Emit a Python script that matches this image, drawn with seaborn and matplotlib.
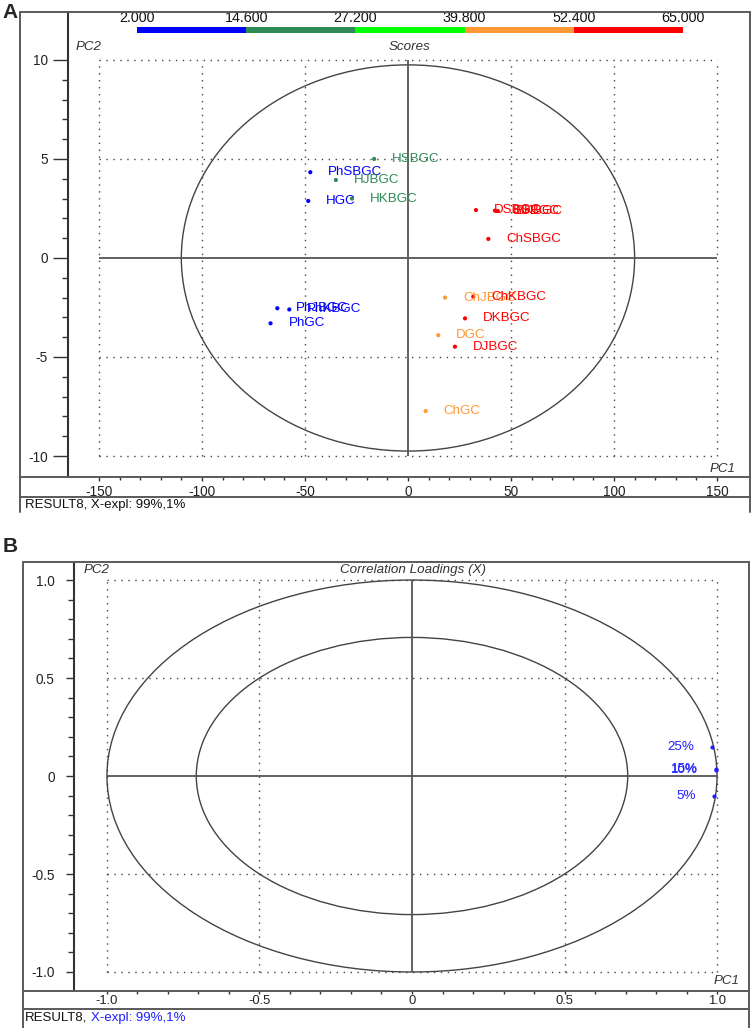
import numpy as np
import pandas as pd
import seaborn as sns
import matplotlib.pyplot as plt
from matplotlib.patches import Ellipse
from matplotlib.lines import Line2D
from matplotlib.ticker import FixedLocator

sns.set_style("white")
plt.rcParams['font.family'] = ['Liberation Sans', 'DejaVu Sans']
plt.rcParams['axes.unicode_minus'] = False

# --- colour scale (top of panel A)
bin_edges = [2.0, 14.6, 27.2, 39.8, 52.4, 65.0]
bin_colors = ['#0000ff', '#2e8b57', '#00ff00', '#ff9933', '#ff0000']

# --- panel A: scores
samples = ['PhSBGC', 'HSBGC', 'HJBGC', 'HGC', 'HKBGC', 'PhJBGC', 'PhKBGC', 'PhGC',
           'DSBGC', 'BSBGC', 'BKBGC', 'ChSBGC', 'ChJBGC', 'ChKBGC', 'DKBGC', 'DGC',
           'DJBGC', 'ChGC']
pc1_scores = [-47.4, -16.4, -35.0, -48.4, -27.2, -63.4, -57.6, -66.7,
              33.0, 42.2, 43.6, 39.0, 18.0, 31.7, 27.7, 14.7, 22.8, 8.6]
pc2_scores = [4.33, 5.0, 3.94, 2.88, 3.0, -2.54, -2.6, -3.3,
              2.42, 2.39, 2.37, 0.96, -2.0, -1.95, -3.05, -3.9, -4.48, -7.73]
sample_bin = [0, 1, 1, 0, 1, 0, 0, 0, 4, 4, 4, 4, 3, 4, 4, 3, 4, 3]

score_ellipse = (110.0, 9.75)   # half-widths in PC1 / PC2 units
a_xticks = [-150, -100, -50, 0, 50, 100, 150]
a_yticks = [-10, -5, 0, 5, 10]

# --- panel B: correlation loadings
variables = ['25%', '15%', '10%', '5%']
pc1_load = [0.985, 0.995, 0.996, 0.990]
pc2_load = [0.150, 0.036, 0.033, -0.100]
b_ticks = [-1.0, -0.5, 0, 0.5, 1.0]
b_ticklabels = ['-1.0', '-0.5', '0', '0.5', '1.0']
load_radii = [1.0, np.sqrt(0.5)]

W, H = 754, 1028
fig = plt.figure(figsize=(W / 100, H / 100), dpi=100)

def fline(x0, y0, x1, y1, lw=1.4, c='#5a5a5a'):
    fig.add_artist(Line2D([x0 / W, x1 / W], [1 - y0 / H, 1 - y1 / H],
                          transform=fig.transFigure, color=c, lw=lw))

def ftext(x, y, s, **kw):
    return fig.text(x / W, 1 - y / H, s, **kw)

def axes_px(l, t, r, b):
    return fig.add_axes([l / W, 1 - b / H, (r - l) / W, (b - t) / H])

def style_axes(ax, major_len, minor_len, ypad, xlen, xpad):
    for sp in ['top', 'right', 'bottom']:
        ax.spines[sp].set_visible(False)
    ax.spines['left'].set_color('#333333')
    ax.spines['left'].set_linewidth(1.5)
    ax.tick_params(which='both', left=True, bottom=True, color='#333333', width=1)
    ax.tick_params(axis='y', which='major', direction='out', length=major_len,
                   pad=ypad, labelsize=9.8, labelcolor='#222222')
    ax.tick_params(axis='y', which='minor', direction='out', length=minor_len)
    ax.tick_params(axis='x', which='major', direction='out', length=xlen,
                   pad=xpad, labelsize=9.8, labelcolor='#222222')
    ax.tick_params(axis='x', which='minor', direction='out', length=2)
    ax.set_xlabel('')
    ax.set_ylabel('')

dot = (0, (1, 4))

# ================= panel A =================
fline(20, 12, 750, 12)
fline(20, 12, 20, 512)
fline(750, 12, 750, 512)
fline(20, 477, 750, 477)
fline(20, 497, 750, 497)
ftext(2, 12, 'A', fontsize=15, fontweight='bold', va='center', ha='left')

ax1 = axes_px(68, 12, 750, 477)
ax1.set_facecolor('none')
df_a = pd.DataFrame({'sample': samples, 'PC1': pc1_scores, 'PC2': pc2_scores,
                     'bin': sample_bin})
sns.scatterplot(data=df_a, x='PC1', y='PC2', hue='bin',
                palette={i: c for i, c in enumerate(bin_colors)},
                s=9, linewidth=0, legend=False, ax=ax1, zorder=5)
for _, r in df_a.iterrows():
    ax1.annotate(r['sample'], (r['PC1'], r['PC2']), xytext=(13, 0),
                 textcoords='offset points', va='center', ha='left',
                 fontsize=9.6, color=bin_colors[r['bin']], zorder=6)

ax1.hlines([-10, -5, 5, 10], -150, 150, colors='#444444', linestyles=[dot], lw=1)
ax1.vlines([-150, -100, -50, 50, 100, 150], -10, 10, colors='#444444',
           linestyles=[dot], lw=1)
ax1.hlines(0, -150, 150, colors='#555555', lw=1.3)
ax1.vlines(0, -10, 10, colors='#555555', lw=1.3)
ax1.add_patch(Ellipse((0, 0), 2 * score_ellipse[0], 2 * score_ellipse[1],
                      fill=False, ec='#444444', lw=1))

ax1.set_xlim(-165, 166)
ax1.set_ylim(-11.06, 12.42)
ax1.set_xticks(a_xticks)
ax1.set_xticklabels([str(v) for v in a_xticks])
ax1.set_yticks(a_yticks)
ax1.set_yticklabels([str(v) for v in a_yticks])
ax1.xaxis.set_minor_locator(FixedLocator(np.arange(-150, 151, 10)))
ax1.yaxis.set_minor_locator(FixedLocator(np.arange(-10, 11, 1)))
style_axes(ax1, 10.5, 4.3, 4, 3, 2.5)

ftext(89, 47, 'PC2', fontsize=9.6, style='italic', color='#333333', ha='center', va='center')
ftext(410, 47, 'Scores', fontsize=9.6, style='italic', color='#333333', ha='center', va='center')
ftext(723, 469, 'PC1', fontsize=9.6, style='italic', color='#333333', ha='center', va='center')
ftext(25, 505, 'RESULT8, X-expl: 99%,1%', fontsize=9.5, color='#111111',
      ha='left', va='center')

cax = axes_px(137, 27, 683, 33)
widths = np.diff(bin_edges)
cax.barh(0, widths, left=bin_edges[:-1], color=bin_colors, height=1, linewidth=0)
cax.set_xlim(bin_edges[0], bin_edges[-1])
cax.set_ylim(-0.5, 0.5)
for sp in cax.spines.values():
    sp.set_visible(False)
cax.set_yticks([])
cax.xaxis.tick_top()
cax.set_xticks(bin_edges)
cax.set_xticklabels([f'{v:.3f}' for v in bin_edges])
cax.tick_params(axis='x', top=True, bottom=False, length=0, pad=1.5,
                labelsize=10.3, labelcolor='#111111')

# ================= panel B =================
fline(23, 562, 749, 562)
fline(23, 562, 23, 1028)
fline(749, 562, 749, 1028)
fline(23, 991, 749, 991)
fline(23, 1009, 749, 1009)
ftext(3, 547, 'B', fontsize=15, fontweight='bold', va='center', ha='left')

ax2 = axes_px(74, 562, 750, 991)
ax2.set_facecolor('none')
df_b = pd.DataFrame({'var': variables, 'PC1': pc1_load, 'PC2': pc2_load})
sns.scatterplot(data=df_b, x='PC1', y='PC2', color='#1f1fff', s=9,
                linewidth=0, legend=False, ax=ax2, zorder=5)
for _, r in df_b.iterrows():
    ax2.annotate(r['var'], (r['PC1'], r['PC2']), xytext=(-13, 0),
                 textcoords='offset points', va='center', ha='right',
                 fontsize=9.6, color='#1f1fff', zorder=6)

ax2.hlines([-1, -0.5, 0.5, 1], -1, 1, colors='#444444', linestyles=[dot], lw=1)
ax2.vlines([-1, -0.5, 0.5, 1], -1, 1, colors='#444444', linestyles=[dot], lw=1)
ax2.hlines(0, -1, 1, colors='#555555', lw=1.3)
ax2.vlines(0, -1, 1, colors='#555555', lw=1.3)
for rad in load_radii:
    ax2.add_patch(Ellipse((0, 0), 2 * rad, 2 * rad, fill=False, ec='#444444', lw=1))

ax2.set_xlim(-1.108, 1.108)
ax2.set_ylim(-1.097, 1.092)
ax2.set_xticks(b_ticks)
ax2.set_xticklabels(b_ticklabels)
ax2.set_yticks(b_ticks)
ax2.set_yticklabels(b_ticklabels)
ax2.xaxis.set_minor_locator(FixedLocator(np.round(np.arange(-1, 1.01, 0.1), 2)))
ax2.yaxis.set_minor_locator(FixedLocator(np.round(np.arange(-1, 1.01, 0.1), 2)))
style_axes(ax2, 6, 4.1, 8, 2.5, 0.6)
for lab in ax2.get_xticklabels():
    lab.set_fontsize(9.4)

ftext(97, 570, 'PC2', fontsize=9.6, style='italic', color='#333333', ha='center', va='center')
ftext(413, 570, 'Correlation Loadings (X)', fontsize=9.6, style='italic',
      color='#333333', ha='center', va='center')
ftext(727, 981, 'PC1', fontsize=9.6, style='italic', color='#333333', ha='center', va='center')
t1 = ftext(25, 1018, 'RESULT8,', fontsize=9.5, color='#111111', ha='left', va='center')
fig.canvas.draw()
bb = t1.get_window_extent(renderer=fig.canvas.get_renderer())
fig.text(bb.x1 / W + 4 / W, 1 - 1018 / H, 'X-expl: 99%,1%', fontsize=9.5,
         color='#1f1fff', ha='left', va='center')

fig.savefig('out.png', dpi=100)
